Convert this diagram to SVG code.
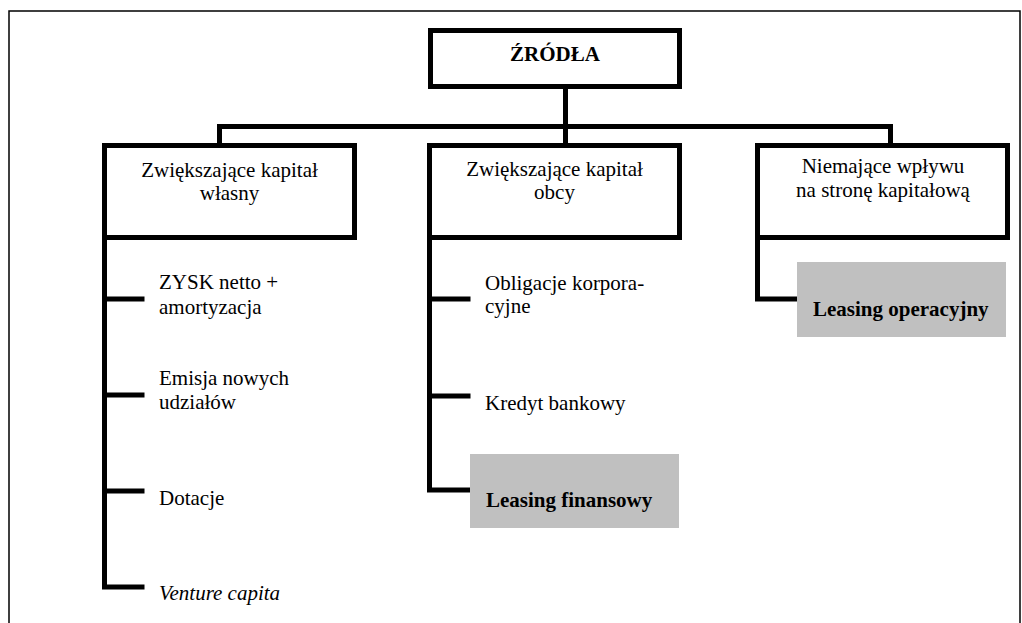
<svg xmlns="http://www.w3.org/2000/svg" width="1022" height="623" viewBox="0 0 1022 623">
<style>
.box{fill:#fff;stroke:#000;stroke-width:5}
.ln{fill:none;stroke:#000;stroke-width:5;stroke-linejoin:miter;stroke-linecap:square}
.fr{fill:none;stroke:#000;stroke-width:1.5}
.g{fill:#c0c0c0}
text{font-family:"Liberation Serif","Times New Roman",serif;font-size:21px;fill:#000}
.c{text-anchor:middle}
.b{font-weight:bold}
.i{font-style:italic}
</style>
<rect width="1022" height="623" fill="#fff"/>
<path class="fr" d="M9,623 V11 H1020 V623"/>
<g id="connectors">
<path class="ln" d="M565.5,89 V126.5"/>
<path class="ln" d="M219.5,143 V126.5 H890.5 V143"/>
<path class="ln" d="M565.5,126.5 V143"/>
<path class="ln" d="M104.5,240 V587 H142"/>
<path class="ln" d="M104.5,299 H142 M104.5,395 H142 M104.5,491 H142"/>
<path class="ln" d="M429.5,240 V490 H468"/>
<path class="ln" d="M429.5,299 H468 M429.5,396 H468"/>
<path class="ln" d="M757.5,240 V299 H797"/>
</g>
<g id="zrodla">
<rect class="box" x="430.5" y="30.5" width="249" height="56"/>
<text class="c b" x="555" y="61">ŹRÓDŁA</text>
</g>
<g id="wlasny">
<rect class="box" x="104.5" y="145.5" width="250" height="92"/>
<text class="c" x="229.5" y="177">Zwiększające kapitał</text>
<text class="c" x="229.5" y="200">własny</text>
</g>
<g id="obcy">
<rect class="box" x="429.5" y="145.5" width="250" height="92"/>
<text class="c" x="554.5" y="176">Zwiększające kapitał</text>
<text class="c" x="554.5" y="199">obcy</text>
</g>
<g id="niemajace">
<rect class="box" x="757.5" y="145.5" width="250" height="92"/>
<text class="c" x="883" y="173">Niemające wpływu</text>
<text class="c" x="883" y="197">na stronę kapitałową</text>
</g>
<g id="zysk">
<text x="159" y="289">ZYSK netto +</text>
<text x="159" y="314">amortyzacja</text>
</g>
<g id="emisja">
<text x="159" y="385">Emisja nowych</text>
<text x="159" y="409">udziałów</text>
</g>
<g id="dotacje"><text x="159" y="505">Dotacje</text></g>
<g id="venture"><text class="i" x="159" y="600">Venture capita</text></g>
<g id="obligacje">
<text x="485" y="290">Obligacje korpora-</text>
<text x="485" y="313">cyjne</text>
</g>
<g id="kredyt"><text x="485" y="410">Kredyt bankowy</text></g>
<g id="leasing-fin">
<rect class="g" x="470" y="454" width="209" height="74"/>
<text class="b" x="486" y="507">Leasing finansowy</text>
</g>
<g id="leasing-op">
<rect class="g" x="797" y="262" width="209" height="75"/>
<text class="b" x="813" y="316">Leasing operacyjny</text>
</g>
</svg>
